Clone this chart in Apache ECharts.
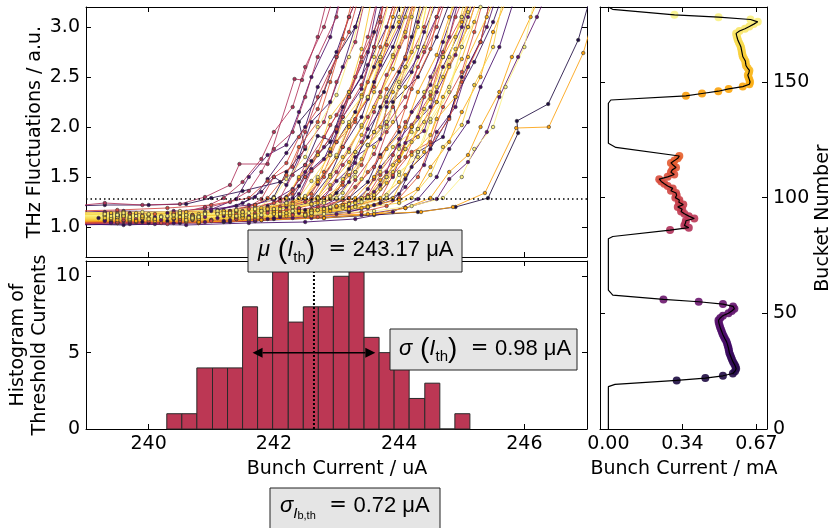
<!DOCTYPE html>
<html>
<head>
<meta charset="utf-8">
<script src="https://cdn.jsdelivr.net/npm/echarts@6/dist/echarts.min.js"></script>
<style>
  html, body { margin: 0; padding: 0; background: #fff; }
  #chart { width: 833px; height: 528px; }
</style>
</head>
<body>
<div id="chart"></div>
<script>
// ---- THz fluctuation scans: bucket of each bunch and its (current, fluctuation) points ----
const scanBuckets = [
  21, 23, 25, 27, 29, 31, 33, 35, 37, 39, 41, 43, 45, 47, 49, 51, 53,
  86, 88, 90, 92, 94, 96, 98, 100, 102, 104, 106, 108, 110, 112, 114, 116, 118,
  145, 147, 149, 151, 153, 155, 157, 159, 161, 163, 165, 167, 169, 171, 173, 175, 177,
  22, 26, 30, 34, 38, 42, 46, 50, 54,
  87, 91, 95, 99, 103, 107, 111, 115,
  146, 150, 154, 158, 162, 166, 170, 174, 178, 148, 156, 164, 172
];
const scanPoints = [
  "238.8 1.05, 239.5 1.04, 240.3 1.06, 241.2 1.05, 242.0 1.08, 242.8 1.09, 243.6 1.12, 244.3 1.15, 244.9 1.20, 245.42 1.29, 245.9 1.94, 245.88 2.06, 246.38 2.23, 246.86 2.87, 247.1 3.4",
  "238.8 1.07, 239.4 1.05, 240.1 1.08, 240.8 1.10, 241.3 1.16, 241.7 1.22, 242.0 1.30, 242.2 1.55, 242.5 1.78, 242.4 2.05, 242.8 2.35, 243.0 2.7, 243.3 3.0, 243.5 3.4",
  "238.8 1.11, 239.7 1.09, 240.6 1.12, 241.5 1.10, 242.2 1.14, 242.8 1.19, 243.2 1.29, 243.5 1.45, 243.7 1.72, 244.0 1.95, 243.9 2.25, 244.3 2.5, 244.6 2.9, 244.9 3.4",
  "238.8 1.21, 239.3 1.22, 240.0 1.22, 240.6 1.23, 241.0 1.29, 241.5 1.36, 242.1 1.45, 242.5 1.62, 242.7 1.91, 243.0 1.85, 243.3 2.15, 243.6 2.6, 243.9 3.0, 244.1 3.4",
  "238.8 1.03, 239.6 1.02, 240.5 1.04, 241.3 1.05, 242.0 1.09, 242.4 1.18, 242.6 1.28, 242.9 1.52, 243.1 1.8, 243.4 2.1, 243.6 2.45, 243.9 2.8, 244.2 3.3",
  "238.8 1.08, 239.8 1.07, 240.7 1.09, 241.6 1.08, 242.5 1.11, 243.2 1.15, 243.6 1.22, 243.8 1.29, 244.1 1.48, 244.3 1.75, 244.7 1.9, 244.9 2.3, 245.2 2.65, 245.5 3.05, 245.7 3.4",
  "238.8 1.13, 239.5 1.12, 240.3 1.14, 241.0 1.16, 241.4 1.21, 241.7 1.30, 241.9 1.48, 242.2 1.74, 242.5 2.0, 242.7 2.4, 243.0 2.75, 243.2 3.1, 243.4 3.4",
  "238.8 1.05, 239.6 1.06, 240.4 1.04, 241.3 1.07, 242.1 1.10, 242.6 1.17, 242.9 1.28, 243.2 1.45, 243.3 1.7, 243.7 1.88, 243.8 2.2, 244.2 2.55, 244.4 2.95, 244.7 3.4",
  "238.8 1.02, 239.7 1.03, 240.6 1.02, 241.6 1.04, 242.5 1.05, 243.3 1.08, 243.9 1.15, 244.3 1.28, 244.6 1.5, 244.8 1.78, 245.1 2.05, 245.3 2.4, 245.6 2.8, 245.9 3.4",
  "238.8 1.09, 239.5 1.10, 240.4 1.08, 241.2 1.11, 241.9 1.16, 242.3 1.29, 242.5 1.5, 242.8 1.68, 243.0 1.95, 243.2 2.3, 243.5 2.62, 243.8 3.0, 244.0 3.4",
  "238.8 1.13, 239.7 1.14, 240.6 1.12, 241.5 1.15, 242.4 1.17, 243.0 1.21, 243.5 1.29, 243.7 1.42, 244.0 1.7, 244.2 2.0, 244.5 2.2, 244.7 2.6, 245.0 3.0, 245.2 3.4",
  "238.8 1.07, 239.5 1.08, 240.3 1.10, 240.9 1.15, 241.4 1.28, 241.6 1.5, 241.9 1.72, 242.2 1.82, 242.4 2.15, 242.6 2.5, 242.9 2.9, 243.1 3.4",
  "238.8 1.15, 239.6 1.16, 240.5 1.15, 241.4 1.17, 242.2 1.20, 242.6 1.24, 242.8 1.29, 243.0 1.46, 243.3 1.64, 243.5 1.98, 243.8 2.25, 244.1 2.68, 244.3 3.05, 244.5 3.4",
  "238.8 1.04, 239.8 1.05, 240.8 1.04, 241.7 1.06, 242.5 1.12, 243.0 1.28, 243.3 1.55, 243.5 1.82, 243.8 2.05, 244.0 2.4, 244.3 2.7, 244.6 3.1, 244.8 3.4",
  "238.8 1.06, 239.7 1.05, 240.7 1.07, 241.7 1.06, 242.6 1.09, 243.4 1.12, 244.1 1.19, 244.6 1.28, 244.8 1.48, 245.1 1.65, 245.4 1.95, 245.6 2.3, 245.9 2.7, 246.2 3.1, 246.4 3.4",
  "238.8 1.11, 239.6 1.12, 240.5 1.10, 241.3 1.13, 242.0 1.16, 242.5 1.28, 242.7 1.43, 243.0 1.7, 243.2 2.0, 243.5 2.28, 243.7 2.62, 244.0 3.0, 244.2 3.4",
  "238.8 1.08, 239.7 1.07, 240.6 1.09, 241.6 1.10, 242.5 1.13, 243.2 1.20, 243.6 1.29, 243.9 1.5, 244.1 1.84, 244.4 1.96, 244.6 2.35, 244.9 2.72, 245.1 3.1, 245.3 3.4",

  "238.8 1.21, 239.3 1.24, 239.9 1.22, 240.5 1.23, 240.9 1.30, 241.3 1.42, 241.45 1.63, 241.9 1.63, 242.33 2.48, 242.45 2.47, 242.7 2.9, 242.9 3.4",
  "238.8 1.10, 239.6 1.11, 240.4 1.13, 240.9 1.20, 241.2 1.29, 241.5 1.45, 241.8 1.68, 242.0 1.95, 242.3 2.2, 242.5 2.6, 242.8 3.0, 243.0 3.4",
  "238.8 1.05, 239.7 1.06, 240.6 1.05, 241.4 1.08, 241.9 1.18, 242.1 1.29, 242.3 1.52, 242.5 1.8, 242.8 2.05, 243.0 2.45, 243.3 2.85, 243.5 3.4",
  "238.8 1.14, 239.5 1.15, 240.4 1.13, 241.3 1.16, 242.1 1.20, 242.5 1.25, 242.7 1.30, 243.0 1.55, 243.2 1.78, 243.5 2.1, 243.7 2.35, 244.0 2.8, 244.3 3.4",
  "238.8 1.07, 239.8 1.08, 240.8 1.06, 241.8 1.09, 242.6 1.14, 243.1 1.28, 243.3 1.47, 243.6 1.73, 243.8 2.02, 244.1 2.3, 244.4 2.75, 244.6 3.1, 244.8 3.4",
  "238.8 1.03, 239.5 1.04, 240.3 1.03, 241.0 1.07, 241.5 1.16, 241.8 1.28, 242.0 1.5, 242.3 1.6, 242.5 1.95, 242.7 2.3, 243.0 2.7, 243.2 3.1, 243.4 3.4",
  "238.8 1.09, 239.6 1.10, 240.5 1.09, 241.4 1.12, 242.0 1.18, 242.4 1.29, 242.6 1.56, 242.9 1.72, 243.1 2.1, 243.4 2.42, 243.6 2.8, 243.9 3.4",
  "238.8 1.12, 239.7 1.13, 240.7 1.11, 241.7 1.14, 242.6 1.17, 243.1 1.22, 243.4 1.29, 243.6 1.48, 243.9 1.72, 244.1 2.05, 244.4 2.3, 244.7 2.7, 244.9 3.1, 245.1 3.4",
  "238.8 1.06, 239.6 1.07, 240.5 1.06, 241.4 1.08, 241.9 1.14, 242.2 1.28, 242.4 1.48, 242.7 1.75, 242.9 2.02, 243.2 2.3, 243.4 2.7, 243.7 3.1, 243.8 3.4",
  "238.8 1.16, 239.5 1.17, 240.3 1.19, 241.0 1.22, 241.6 1.29, 241.9 1.46, 242.2 1.64, 242.4 1.9, 242.7 2.18, 242.9 2.55, 243.2 2.95, 243.4 3.4",
  "238.8 1.04, 239.8 1.05, 240.8 1.04, 241.8 1.07, 242.5 1.13, 242.9 1.28, 243.1 1.45, 243.4 1.62, 243.6 1.95, 243.9 2.2, 244.1 2.6, 244.4 3.0, 244.6 3.4",
  "238.8 1.10, 239.7 1.11, 240.7 1.10, 241.7 1.12, 242.6 1.15, 243.3 1.21, 243.7 1.28, 243.9 1.52, 244.2 1.75, 244.5 1.85, 244.7 2.2, 245.0 2.55, 245.2 2.95, 245.4 3.4",
  "238.8 1.08, 239.6 1.09, 240.5 1.08, 241.4 1.10, 242.1 1.15, 242.6 1.29, 242.8 1.5, 243.1 1.8, 243.3 2.08, 243.6 2.4, 243.8 2.82, 244.0 3.4",
  "238.8 1.05, 239.8 1.06, 240.8 1.05, 241.8 1.07, 242.7 1.10, 243.4 1.15, 243.8 1.21, 244.0 1.29, 244.3 1.5, 244.5 1.82, 244.8 2.08, 245.0 2.45, 245.3 2.85, 245.5 3.4",
  "238.8 1.13, 239.5 1.12, 240.4 1.14, 241.2 1.16, 241.7 1.22, 241.9 1.29, 242.2 1.52, 242.4 1.8, 242.7 2.05, 242.9 2.45, 243.1 2.88, 243.3 3.4",
  "238.8 1.07, 239.7 1.08, 240.6 1.07, 241.6 1.09, 242.5 1.13, 243.0 1.20, 243.2 1.29, 243.5 1.55, 243.7 1.7, 244.0 2.0, 244.2 2.38, 244.5 2.78, 244.7 3.4",
  "238.8 1.11, 239.6 1.12, 240.5 1.10, 241.4 1.13, 242.2 1.17, 242.6 1.22, 242.8 1.29, 243.1 1.42, 243.3 1.75, 243.6 1.95, 243.8 2.38, 244.1 2.7, 244.3 3.4",

  "238.8 1.08, 239.7 1.09, 240.7 1.08, 241.7 1.10, 242.6 1.11, 243.5 1.13, 244.35 1.15, 244.86 1.20, 245.37 1.34, 245.87 1.99, 246.39 2.0, 246.94 2.74, 247.2 3.3",
  "238.8 1.05, 239.8 1.06, 240.8 1.05, 241.8 1.07, 242.8 1.09, 243.6 1.13, 244.1 1.19, 244.5 1.29, 244.8 1.55, 245.1 1.72, 245.3 2.0, 245.6 2.35, 245.8 2.7, 246.1 3.1, 246.3 3.4",
  "238.8 1.12, 239.6 1.13, 240.5 1.12, 241.5 1.14, 242.4 1.16, 243.0 1.21, 243.3 1.29, 243.6 1.5, 243.8 1.78, 244.1 2.0, 244.3 2.35, 244.6 2.72, 244.8 3.1, 245.0 3.4",
  "238.8 1.09, 239.5 1.10, 240.4 1.09, 241.3 1.11, 242.0 1.15, 242.5 1.29, 242.7 1.45, 243.0 1.7, 243.2 2.0, 243.5 2.3, 243.7 2.65, 244.0 3.05, 244.2 3.4",
  "238.8 1.10, 239.7 1.11, 240.7 1.10, 241.7 1.12, 242.6 1.14, 243.4 1.19, 243.9 1.29, 244.1 1.52, 244.4 1.75, 244.6 2.08, 244.9 2.3, 245.1 2.7, 245.4 3.1, 245.6 3.4",
  "238.8 1.14, 239.6 1.15, 240.5 1.14, 241.4 1.16, 242.3 1.19, 242.7 1.24, 242.9 1.29, 243.2 1.52, 243.4 1.68, 243.7 2.0, 243.9 2.35, 244.2 2.75, 244.4 3.4",
  "238.8 1.06, 239.7 1.07, 240.6 1.06, 241.6 1.08, 242.5 1.11, 243.2 1.18, 243.6 1.29, 243.8 1.44, 244.1 1.78, 244.3 1.9, 244.6 2.25, 244.8 2.6, 245.1 3.0, 245.3 3.4",
  "238.8 1.11, 239.5 1.12, 240.4 1.11, 241.3 1.13, 241.9 1.18, 242.2 1.29, 242.4 1.5, 242.7 1.72, 242.9 2.1, 243.2 2.35, 243.4 2.78, 243.6 3.4",
  "238.8 1.08, 239.7 1.09, 240.7 1.08, 241.7 1.10, 242.6 1.14, 242.9 1.20, 243.1 1.29, 243.4 1.48, 243.6 1.8, 243.9 2.05, 244.1 2.4, 244.4 2.8, 244.6 3.4",
  "238.8 1.13, 239.8 1.14, 240.8 1.13, 241.8 1.15, 242.7 1.17, 243.5 1.20, 244.0 1.24, 244.2 1.29, 244.5 1.52, 244.7 1.8, 245.0 2.02, 245.2 2.42, 245.5 2.8, 245.7 3.4",
  "238.8 1.10, 239.6 1.11, 240.5 1.10, 241.5 1.12, 242.3 1.16, 242.7 1.29, 242.9 1.5, 243.2 1.75, 243.4 2.02, 243.7 2.3, 243.9 2.7, 244.2 3.1, 244.4 3.4",
  "238.8 1.07, 239.7 1.08, 240.6 1.07, 241.6 1.09, 242.5 1.12, 243.1 1.19, 243.4 1.29, 243.7 1.55, 243.9 1.8, 244.2 1.95, 244.4 2.35, 244.7 2.7, 244.9 3.4",
  "238.8 1.12, 239.5 1.13, 240.4 1.12, 241.3 1.14, 242.0 1.18, 242.4 1.29, 242.6 1.46, 242.9 1.72, 243.1 2.05, 243.4 2.3, 243.6 2.7, 243.9 3.4",
  "238.8 1.09, 239.7 1.10, 240.7 1.09, 241.7 1.11, 242.6 1.14, 243.3 1.20, 243.8 1.29, 244.0 1.55, 244.3 1.7, 244.5 2.05, 244.8 2.35, 245.0 2.8, 245.2 3.4",
  "238.8 1.15, 239.6 1.14, 240.5 1.16, 241.4 1.17, 242.3 1.20, 242.8 1.24, 243.0 1.29, 243.3 1.5, 243.5 1.82, 243.8 2.0, 244.0 2.4, 244.3 2.8, 244.5 3.4",
  "238.8 1.11, 239.5 1.12, 240.3 1.11, 241.1 1.13, 241.7 1.18, 242.0 1.29, 242.2 1.48, 242.5 1.7, 242.7 2.0, 243.0 2.32, 243.2 2.7, 243.5 3.4",
  "238.8 1.10, 239.8 1.11, 240.8 1.10, 241.8 1.12, 242.8 1.13, 243.6 1.16, 244.2 1.21, 244.7 1.29, 245.0 1.5, 245.2 1.78, 245.5 2.0, 245.7 2.4, 246.0 2.8, 246.2 3.4",

  "238.9 1.06, 239.3 1.07, 239.9 1.05, 240.4 1.08, 241.0 1.07, 241.6 1.10, 242.1 1.12, 242.5 1.17, 242.8 1.25, 243.0 1.34, 243.2 1.58, 243.5 1.9, 243.7 2.2, 244.0 2.55, 244.2 2.9, 244.4 3.4",
  "238.9 1.10, 239.2 1.09, 239.8 1.11, 240.2 1.10, 240.9 1.13, 241.4 1.15, 241.9 1.21, 242.2 1.30, 242.4 1.41, 242.6 1.66, 242.9 1.85, 243.1 2.2, 243.4 2.5, 243.6 2.95, 243.8 3.4",
  "238.9 1.04, 239.4 1.05, 240.0 1.04, 240.6 1.06, 241.2 1.06, 241.9 1.08, 242.6 1.12, 243.2 1.17, 243.7 1.24, 244.0 1.33, 244.2 1.6, 244.5 1.78, 244.8 2.1, 245.0 2.5, 245.3 2.85, 245.5 3.4",
  "238.9 1.12, 239.4 1.13, 239.9 1.11, 240.5 1.14, 241.1 1.17, 241.5 1.24, 241.8 1.35, 242.0 1.5, 242.2 1.42, 242.4 1.7, 242.6 2.05, 242.9 2.25, 243.1 2.6, 243.3 3.0, 243.5 3.4",
  "238.9 1.07, 239.3 1.06, 239.9 1.08, 240.5 1.07, 241.1 1.09, 241.8 1.11, 242.4 1.14, 242.9 1.19, 243.3 1.26, 243.5 1.38, 243.7 1.6, 244.0 1.82, 244.2 2.15, 244.5 2.42, 244.7 2.85, 245.0 3.4",
  "238.9 1.09, 239.5 1.11, 240.1 1.10, 240.7 1.12, 241.3 1.13, 241.8 1.17, 242.2 1.24, 242.4 1.33, 242.6 1.58, 242.9 1.75, 243.1 2.1, 243.4 2.38, 243.6 2.8, 243.8 3.4",
  "238.9 1.03, 239.4 1.04, 240.1 1.03, 240.9 1.05, 241.6 1.06, 242.3 1.09, 243.0 1.13, 243.5 1.19, 243.9 1.27, 244.1 1.4, 244.4 1.62, 244.6 1.95, 244.9 2.2, 245.1 2.6, 245.4 3.0, 245.6 3.4",
  "238.9 1.14, 239.3 1.15, 239.8 1.13, 240.4 1.16, 241.0 1.18, 241.6 1.22, 242.0 1.27, 242.3 1.38, 242.5 1.55, 242.8 1.8, 243.0 2.0, 243.2 2.35, 243.5 2.75, 243.7 3.4",
  "238.9 1.08, 239.5 1.09, 240.2 1.07, 240.9 1.10, 241.6 1.11, 242.3 1.13, 242.9 1.18, 243.3 1.25, 243.6 1.35, 243.8 1.55, 244.0 1.88, 244.3 2.1, 244.5 2.5, 244.8 2.9, 245.0 3.4",
  "238.9 1.11, 239.4 1.13, 240.0 1.12, 240.5 1.15, 240.9 1.19, 241.3 1.25, 241.6 1.36, 241.8 1.55, 242.0 1.78, 242.3 1.95, 242.5 2.3, 242.7 2.7, 243.0 3.1, 243.1 3.4",
  "238.9 1.06, 239.5 1.05, 240.1 1.07, 240.8 1.08, 241.4 1.10, 242.0 1.13, 242.4 1.19, 242.7 1.26, 242.9 1.38, 243.1 1.62, 243.4 1.85, 243.6 2.15, 243.8 2.52, 244.1 2.9, 244.3 3.4",
  "238.9 1.13, 239.3 1.14, 239.9 1.12, 240.6 1.15, 241.2 1.16, 241.7 1.20, 242.1 1.26, 242.3 1.37, 242.5 1.62, 242.8 1.9, 243.0 2.12, 243.3 2.5, 243.5 2.9, 243.7 3.4",
  "238.9 1.08, 239.4 1.09, 240.1 1.08, 240.8 1.10, 241.5 1.12, 242.1 1.15, 242.7 1.20, 243.1 1.27, 243.3 1.4, 243.6 1.6, 243.8 1.95, 244.1 2.2, 244.3 2.6, 244.6 3.0, 244.8 3.4",
  "238.9 1.04, 239.5 1.05, 240.2 1.04, 241.0 1.06, 241.7 1.08, 242.3 1.12, 242.8 1.18, 243.2 1.24, 243.5 1.32, 243.7 1.52, 244.0 1.7, 244.2 2.02, 244.5 2.32, 244.7 2.75, 245.0 3.1, 245.2 3.4",
  "238.9 1.10, 239.3 1.11, 239.9 1.10, 240.5 1.12, 241.1 1.14, 241.6 1.18, 242.0 1.24, 242.3 1.33, 242.5 1.5, 242.7 1.72, 243.0 1.98, 243.2 2.3, 243.4 2.65, 243.7 3.05, 243.8 3.4",
  "238.9 1.07, 239.4 1.08, 240.0 1.06, 240.7 1.09, 241.4 1.10, 242.1 1.12, 242.7 1.17, 243.2 1.23, 243.6 1.31, 243.8 1.5, 244.1 1.7, 244.3 1.98, 244.6 2.25, 244.8 2.62, 245.1 3.0, 245.3 3.4",
  "238.9 1.12, 239.5 1.11, 240.1 1.13, 240.7 1.12, 241.3 1.15, 241.9 1.19, 242.3 1.25, 242.6 1.33, 242.8 1.55, 243.0 1.85, 243.3 2.05, 243.5 2.45, 243.7 2.8, 244.0 3.4",
  "238.9 1.09, 239.4 1.10, 240.0 1.09, 240.7 1.11, 241.3 1.12, 242.0 1.14, 242.6 1.17, 243.1 1.22, 243.5 1.30, 243.7 1.47, 244.0 1.66, 244.2 2.0, 244.5 2.28, 244.7 2.7, 245.0 3.05, 245.2 3.4",
  "238.9 1.11, 239.3 1.12, 239.9 1.10, 240.5 1.13, 241.1 1.14, 241.7 1.17, 242.2 1.22, 242.5 1.30, 242.7 1.48, 242.9 1.78, 243.2 2.02, 243.4 2.32, 243.7 2.7, 243.9 3.1, 244.1 3.4",
  "238.9 1.06, 239.5 1.07, 240.1 1.06, 240.8 1.08, 241.5 1.09, 242.2 1.11, 242.8 1.15, 243.3 1.21, 243.7 1.29, 244.0 1.45, 244.2 1.72, 244.5 1.92, 244.7 2.3, 245.0 2.68, 245.2 3.05, 245.4 3.4",
  "238.9 1.13, 239.4 1.14, 240.0 1.12, 240.6 1.15, 241.2 1.16, 241.8 1.19, 242.3 1.23, 242.7 1.30, 242.9 1.52, 243.1 1.7, 243.4 2.0, 243.6 2.35, 243.9 2.72, 244.1 3.1, 244.3 3.4",
  "238.9 1.10, 239.3 1.09, 239.9 1.11, 240.6 1.10, 241.3 1.12, 242.0 1.13, 242.6 1.16, 243.1 1.20, 243.4 1.27, 243.7 1.38, 243.9 1.62, 244.2 1.85, 244.4 2.18, 244.7 2.5, 244.9 2.9, 245.1 3.4",
  "238.9 1.12, 239.5 1.13, 240.2 1.11, 240.9 1.14, 241.5 1.15, 242.1 1.18, 242.6 1.23, 242.9 1.31, 243.1 1.48, 243.3 1.75, 243.6 1.95, 243.8 2.3, 244.1 2.6, 244.3 3.0, 244.5 3.4",
  "238.9 1.08, 239.4 1.09, 240.0 1.08, 240.7 1.10, 241.4 1.11, 242.1 1.13, 242.7 1.17, 243.2 1.23, 243.5 1.30, 243.8 1.5, 244.0 1.78, 244.3 1.98, 244.5 2.35, 244.8 2.7, 245.0 3.1, 245.2 3.4",
  "238.9 1.14, 239.3 1.13, 239.9 1.15, 240.5 1.14, 241.1 1.16, 241.7 1.19, 242.2 1.24, 242.5 1.31, 242.7 1.5, 243.0 1.72, 243.2 2.05, 243.5 2.3, 243.7 2.7, 244.0 3.1, 244.1 3.4",
  "238.9 1.11, 239.5 1.12, 240.2 1.10, 240.9 1.13, 241.6 1.14, 242.3 1.16, 242.9 1.20, 243.4 1.25, 243.8 1.32, 244.0 1.52, 244.3 1.75, 244.5 2.08, 244.8 2.4, 245.0 2.8, 245.3 3.2, 245.4 3.4",
  "238.9 1.07, 239.4 1.08, 240.1 1.07, 240.8 1.09, 241.5 1.10, 242.2 1.12, 242.9 1.16, 243.5 1.21, 244.0 1.27, 244.3 1.38, 244.5 1.6, 244.8 1.85, 245.0 2.15, 245.3 2.5, 245.5 2.95, 245.8 3.4",
  "238.9 1.10, 239.3 1.11, 239.9 1.09, 240.6 1.12, 241.2 1.13, 241.8 1.16, 242.3 1.21, 242.7 1.28, 242.9 1.42, 243.2 1.65, 243.4 1.92, 243.6 2.2, 243.9 2.58, 244.1 2.95, 244.3 3.4",
  "238.9 1.09, 239.5 1.10, 240.1 1.08, 240.8 1.11, 241.5 1.12, 242.2 1.14, 242.8 1.18, 243.3 1.24, 243.6 1.32, 243.9 1.55, 244.1 1.78, 244.4 2.05, 244.6 2.4, 244.9 2.78, 245.1 3.15, 245.3 3.4",
  "238.9 1.12, 239.4 1.11, 240.0 1.13, 240.6 1.12, 241.2 1.14, 241.8 1.16, 242.3 1.20, 242.8 1.26, 243.1 1.34, 243.3 1.55, 243.5 1.82, 243.8 2.05, 244.0 2.45, 244.3 2.8, 244.5 3.4"
];
const thresholdLevel = 1.28;

// ---- histogram of threshold currents (uA) ----
const histEdges = [240.29, 240.53, 240.77, 241.02, 241.26, 241.50, 241.74, 241.98, 242.23, 242.47,
                   242.71, 242.95, 243.20, 243.44, 243.68, 243.92, 244.16, 244.41, 244.65, 244.89, 245.13];
const histCounts = [1, 1, 4, 4, 4, 8, 6, 11, 7, 8, 8, 10, 11, 6, 5, 5, 2, 3, 0, 1];
const meanLine = 242.64;      // dotted marker at the histogram centre
const sigmaThreshold = 0.98;  // half-width of the double arrow
const arrowLevel = 5;

// ---- filling pattern: bunch current (mA) per bucket, three trains ----
const train1Start = 21;
const train1Current = [0.31, 0.44, 0.52, 0.565, 0.575, 0.58, 0.577, 0.572, 0.566, 0.561, 0.557, 0.553,
  0.549, 0.547, 0.545, 0.542, 0.539, 0.535, 0.529, 0.524, 0.519, 0.515, 0.511, 0.507, 0.504, 0.501,
  0.50, 0.508, 0.52, 0.545, 0.56, 0.572, 0.566, 0.52, 0.41, 0.25];
const train2Start = 86;
const train2Current = [0.28, 0.365, 0.345, 0.35, 0.352, 0.39, 0.365, 0.345, 0.33, 0.335, 0.315, 0.34,
  0.32, 0.322, 0.304, 0.31, 0.307, 0.284, 0.292, 0.269, 0.254, 0.24, 0.231, 0.269, 0.299, 0.284,
  0.29, 0.307, 0.295, 0.284, 0.30, 0.315, 0.322];
const train3Start = 144;
const train3Current = [0.352, 0.425, 0.499, 0.546, 0.61, 0.64, 0.643, 0.64, 0.636, 0.633, 0.638, 0.64,
  0.632, 0.625, 0.623, 0.622, 0.616, 0.61, 0.608, 0.606, 0.604, 0.602, 0.598, 0.593, 0.588, 0.585,
  0.582, 0.58, 0.595, 0.62, 0.64, 0.66, 0.678, 0.645, 0.50, 0.30];
// empty-bucket stretches of the measured profile as [current, bucket]
const gapBefore1 = [[0, 0], [0, 18.3], [0.03, 19.3]];
const gap1to2 = [[0.02, 57.9], [0, 60], [0, 82.2], [0.02, 83.2]];
const gap2to3 = [[0.034, 121.7], [0, 123.5], [0, 140.8], [0.011, 142.2]];
const gapAfter3 = [[0.019, 181.4], [0, 182.4]];
const bucketCount = 184;

// ---- tick values ----
const currentTicksUA = [240, 242, 244, 246];
const thzTicks = [1.0, 1.5, 2.0, 2.5, 3.0];
const countTicks = [0, 5, 10];
const currentTicksMA = [0, 0.336, 0.672];
const bucketTicks = [0, 50, 100, 150];

// inferno colour map
const infernoStops = ['#000004', '#160b39', '#420a68', '#6a176e', '#932667', '#bc3754',
                      '#dd513a', '#f37819', '#fca50a', '#f6d746', '#fcffa4'];
function inferno(t) {
  t = Math.max(0, Math.min(1, t));
  const s = t * 10, i = Math.min(9, Math.floor(s)), f = s - i;
  const a = infernoStops[i], b = infernoStops[i + 1];
  const ch = (h, k) => parseInt(h.substr(1 + 2 * k, 2), 16);
  const c = [0, 1, 2].map(k => Math.round(ch(a, k) + (ch(b, k) - ch(a, k)) * f));
  return 'rgb(' + c.join(',') + ')';
}

const FONT = 'DejaVu Sans';
const MATH = 'Liberation Sans';
const parseScan = s => s.split(',').map(p => p.trim().split(/\s+/).map(Number));

function axis(gridIndex, position, min, max, ticks, showLabels, fmt) {
  return {
    type: 'value', gridIndex, position, min, max,
    axisLine: { show: true, onZero: false, lineStyle: { color: '#000', width: 1 } },
    axisTick: { show: true, inside: true, length: 5, customValues: ticks, lineStyle: { color: '#000', width: 1 } },
    axisLabel: { show: showLabels, customValues: ticks, formatter: fmt, fontFamily: FONT, fontSize: 19, color: '#000', margin: 6 },
    splitLine: { show: false }
  };
}

const series = [];

// THz scans, one line per bunch, drawn in bucket order
scanBuckets.map((b, i) => i).sort((a, b) => scanBuckets[a] - scanBuckets[b]).forEach(i => {
  const col = inferno(scanBuckets[i] / bucketCount);
  series.push({
    type: 'line', xAxisIndex: 0, yAxisIndex: 0,
    data: parseScan(scanPoints[i]),
    symbol: 'circle', symbolSize: 3.5, showSymbol: true, showAllSymbol: true,
    lineStyle: { color: col, width: 1, opacity: 0.85 },
    itemStyle: { color: col, borderColor: '#333', borderWidth: 0.6 },
    z: 2, silent: true
  });
});
// threshold level
series.push({
  type: 'line', xAxisIndex: 0, yAxisIndex: 0,
  data: [[239, thresholdLevel], [247, thresholdLevel]],
  symbol: 'none', lineStyle: { color: '#000', width: 1.5, type: [1.5, 3] }, z: 5, silent: true
});

// histogram bars
series.push({
  type: 'custom', xAxisIndex: 2, yAxisIndex: 2,
  data: histCounts.map((c, i) => [histEdges[i], histEdges[i + 1], c]),
  encode: { x: [0, 1], y: 2 },
  renderItem: (params, api) => {
    const p0 = api.coord([api.value(0), 0]);
    const p1 = api.coord([api.value(1), api.value(2)]);
    return {
      type: 'rect',
      shape: { x: p0[0], y: p1[1], width: p1[0] - p0[0], height: p0[1] - p1[1] },
      style: { fill: '#bc3754', stroke: '#2a2a2a', lineWidth: 1 }
    };
  },
  z: 2, silent: true
});
// centre marker
series.push({
  type: 'line', xAxisIndex: 2, yAxisIndex: 2,
  data: [[meanLine, 0], [meanLine, 11]],
  symbol: 'none', lineStyle: { color: '#000', width: 2, type: [2, 2] }, z: 4, silent: true
});
// double arrow spanning centre ± sigma
series.push({
  type: 'custom', xAxisIndex: 2, yAxisIndex: 2,
  data: [[meanLine - sigmaThreshold, meanLine + sigmaThreshold, arrowLevel]],
  encode: { x: [0, 1], y: 2 },
  renderItem: (params, api) => {
    const a = api.coord([api.value(0), api.value(2)]);
    const b = api.coord([api.value(1), api.value(2)]);
    const L = 10, H = 5;
    return {
      type: 'group', children: [
        { type: 'line', shape: { x1: a[0] + L, y1: a[1], x2: b[0] - L, y2: b[1] }, style: { stroke: '#000', lineWidth: 1.5 } },
        { type: 'polygon', shape: { points: [[a[0], a[1]], [a[0] + L, a[1] - H], [a[0] + L, a[1] + H]] }, style: { fill: '#000' } },
        { type: 'polygon', shape: { points: [[b[0], b[1]], [b[0] - L, b[1] - H], [b[0] - L, b[1] + H]] }, style: { fill: '#000' } }
      ]
    };
  },
  z: 6, silent: true
});

// filling pattern
const dots = [];
[[train1Start, train1Current], [train2Start, train2Current], [train3Start, train3Current]].forEach(([s, arr]) => {
  arr.forEach((c, k) => dots.push({ value: [c, s + k], itemStyle: { color: inferno((s + k) / bucketCount) } }));
});
const trainPairs = (s, arr) => arr.map((c, k) => [c, s + k]);
const profile = [].concat(gapBefore1, trainPairs(train1Start, train1Current), gap1to2,
  trainPairs(train2Start, train2Current), gap2to3, trainPairs(train3Start, train3Current), gapAfter3);
series.push({
  type: 'scatter', xAxisIndex: 4, yAxisIndex: 4, data: dots,
  symbol: 'circle', symbolSize: 8, itemStyle: { opacity: 0.9 }, z: 2, silent: true
});
series.push({
  type: 'line', xAxisIndex: 4, yAxisIndex: 4, data: profile,
  symbol: 'none', lineStyle: { color: '#000', width: 1.2 }, z: 3, silent: true
});

// math-style annotation text
const richBase = {
  n: { fontFamily: MATH, fontSize: 22, lineHeight: 30, color: '#000' },
  i: { fontFamily: MATH, fontSize: 22, lineHeight: 30, fontStyle: 'italic', color: '#000' },
  e: { fontFamily: FONT, fontSize: 21, lineHeight: 30, color: '#000' },
  p: { fontFamily: MATH, fontSize: 28, lineHeight: 30, color: '#000' },
  s: { fontFamily: MATH, fontSize: 15, lineHeight: 20, verticalAlign: 'bottom', color: '#000' },
  si: { fontFamily: MATH, fontSize: 15, lineHeight: 20, verticalAlign: 'bottom', fontStyle: 'italic', color: '#000' },
  ss: { fontFamily: MATH, fontSize: 11, lineHeight: 12, verticalAlign: 'bottom', color: '#000' }
};
function box(x, y, w, h, tx, ty, text) {
  return [
    { type: 'rect', zlevel: 2, z: 100, shape: { x, y, width: w, height: h },
      style: { fill: '#e5e5e5', stroke: '#222', lineWidth: 1 } },
    { type: 'text', zlevel: 2, z: 101, x: tx, y: ty,
      style: { text, rich: richBase, align: 'left', verticalAlign: 'middle', fontFamily: MATH, fontSize: 22, fill: '#000' } }
  ];
}
function label(x, y, text, rot) {
  return { type: 'text', x, y, rotation: rot || 0, z: 50,
    style: { text, fontFamily: FONT, fontSize: 19, lineHeight: 22, fill: '#000', align: 'center', verticalAlign: 'middle' } };
}

const option = {
  animation: false,
  backgroundColor: '#fff',
  grid: [
    { left: 86, top: 7, width: 501, height: 250 },
    { left: 86, top: 261, width: 501, height: 168 },
    { left: 600, top: 7, width: 167, height: 422 }
  ],
  xAxis: [
    axis(0, 'bottom', 239, 247, currentTicksUA, false),
    axis(0, 'top', 239, 247, currentTicksUA, false),
    axis(1, 'bottom', 239, 247, currentTicksUA, true, v => String(v)),
    axis(1, 'top', 239, 247, currentTicksUA, false),
    axis(2, 'bottom', -0.038, 0.72, currentTicksMA, true, v => v.toFixed(2)),
    axis(2, 'top', -0.038, 0.72, currentTicksMA, false)
  ],
  yAxis: [
    axis(0, 'left', 0.7, 3.2, thzTicks, true, v => v.toFixed(1)),
    axis(0, 'right', 0.7, 3.2, thzTicks, false),
    axis(1, 'left', 0, 11, countTicks, true, v => String(v)),
    axis(1, 'right', 0, 11, countTicks, false),
    axis(2, 'right', 0, 182.4, bucketTicks, true, v => String(v)),
    axis(2, 'left', 0, 182.4, bucketTicks, false)
  ],
  series,
  graphic: [
    label(35, 132, 'THz Fluctuations / a.u.', Math.PI / 2),
    label(29, 345, 'Histogram of\nThreshold Currents', Math.PI / 2),
    label(337, 469, 'Bunch Current / uA'),
    label(684, 469, 'Bunch Current / mA'),
    label(823, 218, 'Bucket Number', Math.PI / 2)
  ].concat(
    box(248, 230, 214, 42, 258, 250, '{i|μ}{p| (}{i|I}{s|th}{p|)}{e|  = }{n|243.17 μA}'),
    box(390, 329, 187, 41, 399, 349, '{i|σ}{p| (}{i|I}{s|th}{p|)}{e|  = }{n|0.98 μA}'),
    box(270, 488, 170, 50, 280, 506, '{i|σ}{si|I}{ss|b,th}{e|  = }{n|0.72 μA}')
  )
};

const chart = echarts.init(document.getElementById('chart'), null, { renderer: 'canvas' });
chart.setOption(option);
</script>
</body>
</html>
